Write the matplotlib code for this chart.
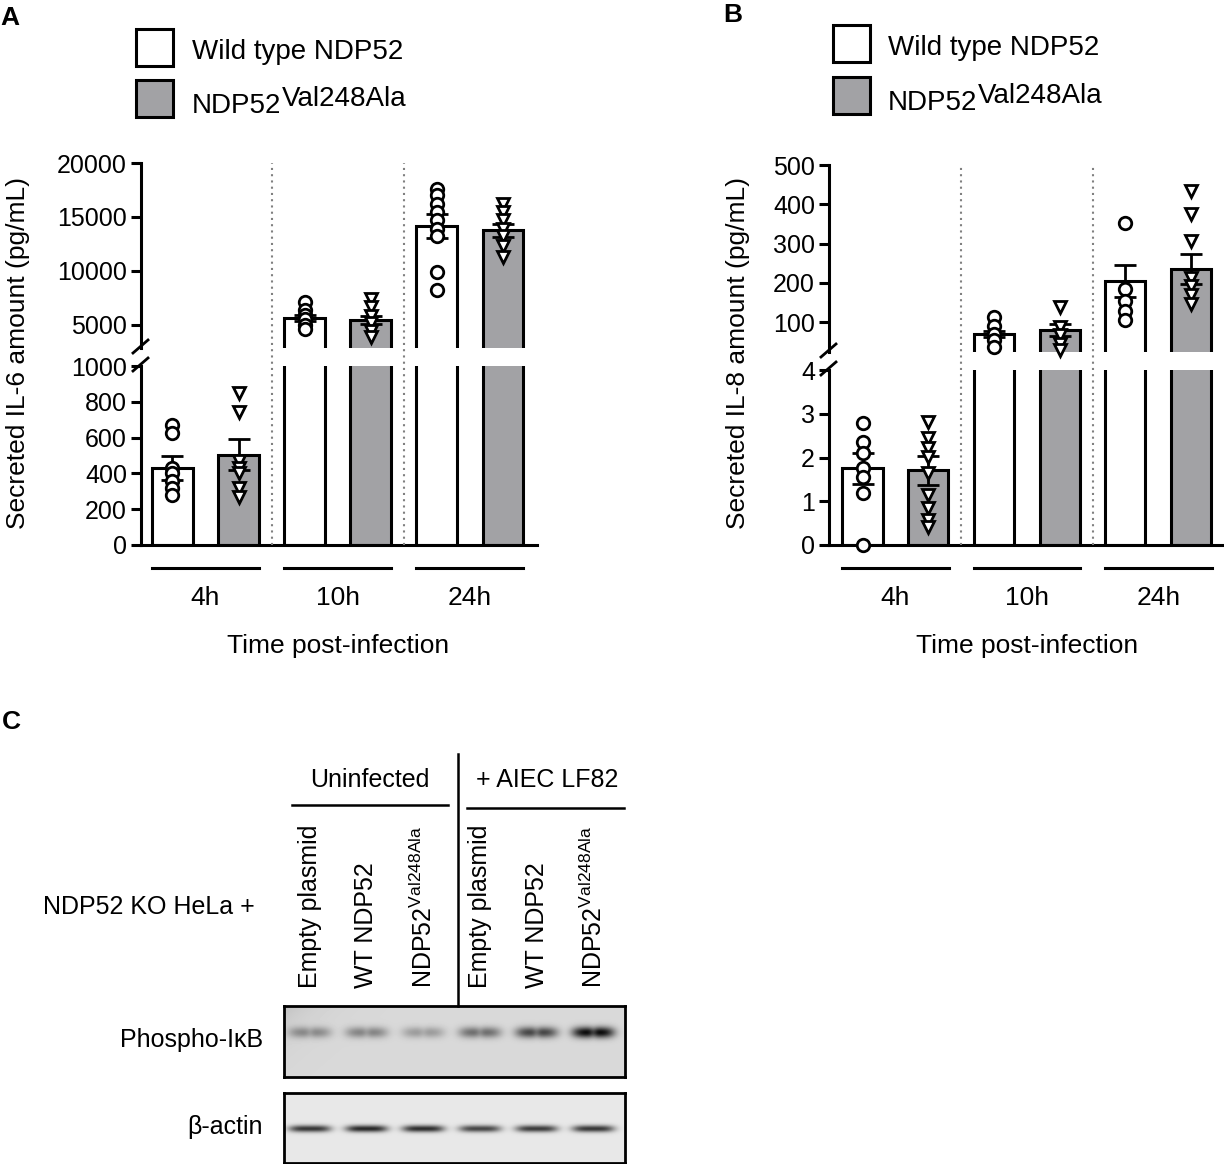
import numpy as np
import matplotlib
matplotlib.use("Agg")
import matplotlib.pyplot as plt
from matplotlib.transforms import blended_transform_factory as btf
from matplotlib.lines import Line2D
from matplotlib.patches import Rectangle

plt.rcParams['font.family'] = ['Liberation Sans', 'DejaVu Sans']
plt.rcParams['mathtext.fontset'] = 'custom'
plt.rcParams['mathtext.rm'] = 'Liberation Sans'
plt.rcParams['mathtext.it'] = 'Liberation Sans:italic'
plt.rcParams['mathtext.bf'] = 'Liberation Sans:bold'

# ---------------- data ----------------
groups = ['4h', '10h', '24h']
series = ['Wild type NDP52', 'NDP52']
series_sup = ['', 'Val248Ala']

il6_wt_mean = [430, 5620, 14150]
il6_wt_sem = [65, 300, 1150]
il6_mut_mean = [505, 5460, 13780]
il6_mut_sem = [88, 350, 600]
il6_wt_points = [[670, 625, 430, 400, 360, 320, 280],
                 [7100, 6400, 5900, 5500, 5000, 4600],
                 [17600, 17000, 16200, 15500, 14700, 13900, 13200, 9900, 8200]]
il6_mut_points = [[850, 745, 470, 430, 400, 320, 270],
                  [7400, 6600, 5800, 5200, 4400, 3900],
                  [16200, 15500, 14700, 13900, 13200, 12300, 11300]]

il8_wt_mean = [1.75, 70, 204]
il8_wt_sem = [0.35, 8, 40]
il8_mut_mean = [1.71, 79, 234]
il8_mut_sem = [0.33, 15, 38]
il8_wt_points = [[2.78, 2.36, 2.10, 1.75, 1.56, 1.18, 0.0],
                 [113, 91, 70, 53, 36],
                 [351, 183, 153, 128, 104]]
il8_mut_points = [[2.82, 2.44, 2.21, 2.02, 1.64, 1.14, 0.84, 0.57, 0.42],
                  [138, 87, 66, 45, 28],
                  [434, 374, 306, 213, 191, 170, 145]]

il6_upper_ticks = [5000, 10000, 15000, 20000]
il6_lower_ticks = [0, 200, 400, 600, 800, 1000]
il8_upper_ticks = [100, 200, 300, 400, 500]
il8_lower_ticks = [0, 1, 2, 3, 4]

blot_lanes = ['Empty plasmid', 'WT NDP52', r'NDP52$^{\rm Val248Ala}$',
              'Empty plasmid', 'WT NDP52', r'NDP52$^{\rm Val248Ala}$']
conditions = ['Uninfected', '+ AIEC LF82']
pikb_intensity = [0.30, 0.33, 0.24, 0.42, 0.58, 0.82]
actin_intensity = [0.70, 0.76, 0.74, 0.64, 0.68, 0.70]

# ---------------- layout helpers ----------------
W, H = 1224, 1164
fig = plt.figure(figsize=(W / 100, H / 100), dpi=100)


def fx(px):
    return px / W


def fy(py):
    return 1 - py / H


def rect(x0, y0, x1, y1):
    return [fx(x0), fy(y1), (x1 - x0) / W, (y1 - y0) / H]


GREY = '#a2a2a5'
LW = 2.2
FS = 18


def draw_panel(up_box, lo_box, xlim, up_ylim, lo_top, up_ticks, lo_ticks,
               wt_mean, wt_sem, mut_mean, mut_sem, wt_pts, mut_pts,
               ylabel, ylabel_x, brk_x, letter, letter_xy,
               legend_box_x, legend_y, text_x, text_base):
    ax_up = fig.add_axes(rect(*up_box))
    ax_lo = fig.add_axes(rect(*lo_box))
    xs_wt = [2 * g for g in range(len(groups))]
    xs_mut = [2 * g + 1 for g in range(len(groups))]
    for ax in (ax_up, ax_lo):
        ax.set_xlim(*xlim)
        ax.bar(xs_wt, wt_mean, width=0.61, color='white', edgecolor='black',
               linewidth=LW, zorder=2)
        ax.bar(xs_mut, mut_mean, width=0.61, color=GREY, edgecolor='black',
               linewidth=LW, zorder=2)
        ax.spines['top'].set_visible(False)
        ax.spines['right'].set_visible(False)
        ax.spines['left'].set_linewidth(LW)
        ax.spines['bottom'].set_linewidth(LW)
        ax.tick_params(axis='y', direction='out', length=7, width=LW,
                       labelsize=FS, pad=3)
        ax.set_xticks([])
        ax.patch.set_alpha(0)
    ax_up.spines['bottom'].set_visible(False)
    ax_up.set_ylim(*up_ylim)
    ax_up.set_yticks(up_ticks)
    ax_lo.set_ylim(0, lo_top)
    ax_lo.set_yticks(lo_ticks)

    # error bars and points
    for xs, means, sems, pts, mk in ((xs_wt, wt_mean, wt_sem, wt_pts, 'o'),
                                     (xs_mut, mut_mean, mut_sem, mut_pts, 'v')):
        for x, m, s, p in zip(xs, means, sems, pts):
            ax = ax_lo if m <= lo_top else ax_up
            ax.errorbar([x], [m], yerr=[s], fmt='none', ecolor='black',
                        elinewidth=2.0, capsize=8, capthick=2.0, zorder=3)
            lo_vals = [v for v in p if v <= lo_top]
            up_vals = [v for v in p if v > lo_top]
            for a, vals in ((ax_lo, lo_vals), (ax_up, up_vals)):
                if vals:
                    a.plot([x] * len(vals), vals, ls='none', marker=mk, ms=9,
                           mfc='white', mec='black', mew=2.0, clip_on=False,
                           zorder=4)

    # dotted separators through both segments
    tr = btf(ax_lo.transData, fig.transFigure)
    for xsep in (1.5, 3.5):
        fig.add_artist(Line2D([xsep, xsep], [fy(lo_box[3]), fy(up_box[1])],
                              transform=tr, color='#808080', lw=1.5,
                              ls=(0, (1, 2))))

    # break marks
    for yc in (up_box[3] - 2, lo_box[1] - 2):
        fig.add_artist(Line2D([fx(brk_x - 8), fx(brk_x + 7)],
                              [fy(yc + 7), fy(yc - 6)],
                              transform=fig.transFigure, color='black', lw=2))

    # group lines and labels
    for g, name in enumerate(groups):
        c = 2 * g + 0.5
        fig.add_artist(Line2D([c - 0.81, c + 0.81], [fy(568), fy(568)],
                              transform=tr, color='black', lw=LW))
        fig.text(c, fy(598), name, transform=tr, ha='center', va='center',
                 fontsize=19)
    fig.text(2.5, fy(646), 'Time post-infection', transform=tr, ha='center',
             va='center', fontsize=19)
    fig.text(fx(ylabel_x), fy(353), ylabel, rotation=90, ha='center',
             va='center', fontsize=19)
    fig.text(fx(letter_xy[0]), fy(letter_xy[1]), letter, ha='left',
             va='center', fontsize=19, fontweight='bold')

    # legend
    for i, col in enumerate(['white', GREY]):
        y0 = legend_y[i]
        fig.add_artist(Rectangle((fx(legend_box_x), fy(y0 + 37)),
                                 37 / W, 37 / H, transform=fig.transFigure,
                                 facecolor=col, edgecolor='black', lw=LW))
        t = fig.text(fx(text_x), fy(text_base[i]), series[i], ha='left',
                     va='baseline', fontsize=20)
        if series_sup[i]:
            r = fig.canvas.get_renderer()
            bb = t.get_window_extent(renderer=r)
            fig.text(bb.x1 / W + 1 / W, fy(text_base[i] - 7), series_sup[i],
                     ha='left', va='baseline', fontsize=20)
    return ax_up, ax_lo


draw_panel((141, 163, 537, 348), (141, 366, 537, 545), (-0.477, 5.52),
           (2844, 20000), 1000, il6_upper_ticks, il6_lower_ticks,
           il6_wt_mean, il6_wt_sem, il6_mut_mean, il6_mut_sem,
           il6_wt_points, il6_mut_points,
           'Secreted IL-6 amount (pg/mL)', 18, 141, 'A', (0, 18),
           136, (29, 80), 192, (59, 113))

draw_panel((829, 165, 1224, 352), (829, 370, 1224, 545), (-0.51, 5.50),
           (23.6, 500), 4, il8_upper_ticks, il8_lower_ticks,
           il8_wt_mean, il8_wt_sem, il8_mut_mean, il8_mut_sem,
           il8_wt_points, il8_mut_points,
           'Secreted IL-8 amount (pg/mL)', 738, 829, 'B', (723, 15),
           833, (25, 77), 888, (55, 110))

# ---------------- panel C : western blot ----------------
fig.text(fx(2), fy(722), 'C', ha='left', va='center', fontsize=19,
         fontweight='bold')


def blot_image(intens, yc, sig, bg, rows, doublet, corner):
    xs = np.linspace(-0.45, 5.55, 341)
    ys = np.linspace(0, 1, rows)
    X, Y = np.meshgrid(xs, ys)
    img = np.full_like(X, bg)
    if corner:
        img -= 0.10 * np.exp(-(X + 0.45) / 0.5) * np.exp(-Y / 0.35)
    for i, a in enumerate(intens):
        horiz = np.exp(-((X - i) / 0.37) ** 4)
        if doublet:
            horiz *= 1 - 0.25 * np.exp(-((X - i) / 0.07) ** 2)
        img -= a * horiz * np.exp(-((Y - yc) / sig) ** 2)
    return np.clip(img, 0, 1)


blots = [((284, 1006, 625, 1077), pikb_intensity, 0.37, 0.08, 0.85, True, True),
         ((284, 1093, 625, 1163), actin_intensity, 0.51, 0.05, 0.91, False, False)]
blot_axes = []
for box, inten, yc, sig, bg, dbl, corner in blots:
    ax = fig.add_axes(rect(*box))
    img = blot_image(inten, yc, sig, bg, 71, dbl, corner)
    ax.imshow(img, cmap='gray', vmin=0, vmax=1, aspect='auto',
              extent=(-0.45, 5.55, 1, 0), interpolation='bilinear')
    ax.set_xticks([])
    ax.set_yticks([])
    for s in ax.spines.values():
        s.set_linewidth(2)
    blot_axes.append(ax)

trc = btf(blot_axes[0].transData, fig.transFigure)
for i, lab in enumerate(blot_lanes):
    fig.text(i, fy(988), lab, transform=trc, rotation=90, ha='center',
             va='bottom', fontsize=FS)

# condition headers
fig.text(fx(370), fy(780), conditions[0], ha='center', va='center', fontsize=FS)
fig.text(fx(547), fy(780), conditions[1], ha='center', va='center', fontsize=FS)
fig.add_artist(Line2D([fx(292), fx(448)], [fy(805), fy(805)],
                      transform=fig.transFigure, color='black', lw=1.8))
fig.add_artist(Line2D([fx(467), fx(624)], [fy(808), fy(808)],
                      transform=fig.transFigure, color='black', lw=1.8))
fig.add_artist(Line2D([fx(458), fx(458)], [fy(754), fy(1006)],
                      transform=fig.transFigure, color='black', lw=1.8))

fig.text(fx(43), fy(907), 'NDP52 KO HeLa +', ha='left', va='center',
         fontsize=FS)
fig.text(fx(263), fy(1040), 'Phospho-I\u03baB', ha='right', va='center',
         fontsize=FS)
fig.text(fx(263), fy(1127), '\u03b2-actin', ha='right', va='center',
         fontsize=FS)

fig.savefig('out.png', dpi=100)
